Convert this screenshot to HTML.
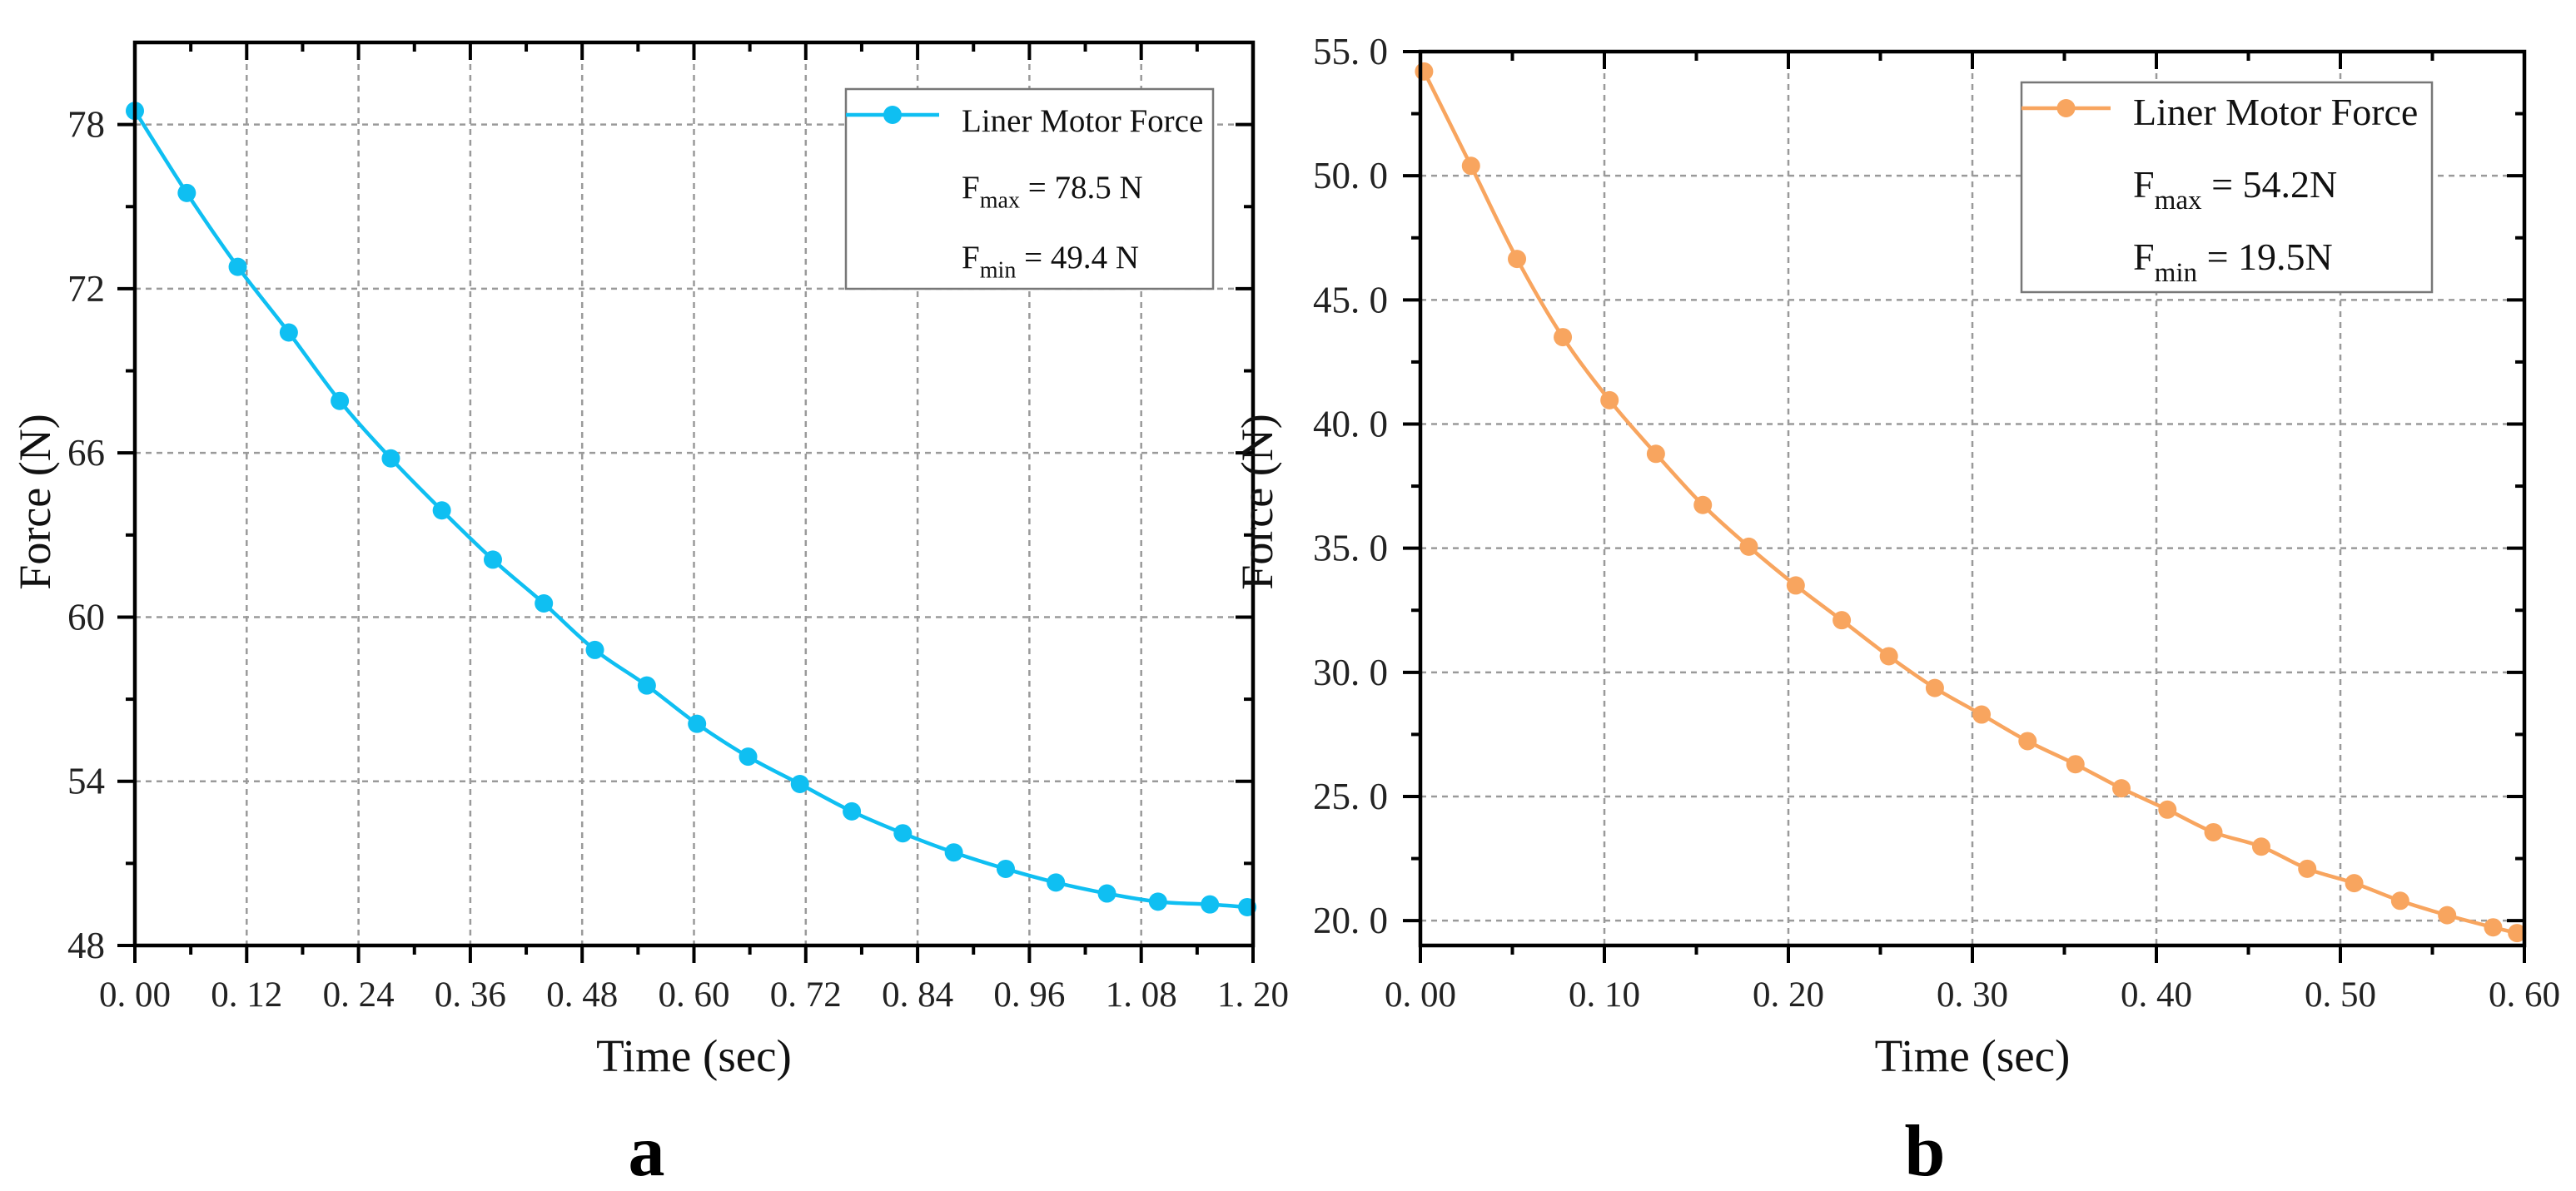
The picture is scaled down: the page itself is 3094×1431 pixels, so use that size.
<!DOCTYPE html>
<html><head><meta charset="utf-8"><style>
html,body{margin:0;padding:0;background:#fff;}
svg{display:block;font-family:"Liberation Serif",serif;}
</style></head><body>
<svg id="fig" width="3094" height="1431" viewBox="0 0 3094 1431" xmlns="http://www.w3.org/2000/svg"></svg>
<script>
const timesA=[0,0.0557,0.1104,0.1652,0.2199,0.2747,0.3294,0.3842,0.4389,0.4937,0.5494,0.6033,0.6581,0.7137,0.7694,0.8241,0.8789,0.9346,0.9884,1.0432,1.098,1.1537,1.1938];
const forceA=[78.5,75.5,72.8,70.4,67.9,65.8,63.9,62.1,60.5,58.8,57.5,56.1,54.9,53.9,52.9,52.1,51.4,50.8,50.3,49.9,49.6,49.5,49.4];
const xTicksA=[0,0.12,0.24,0.36,0.48,0.60,0.72,0.84,0.96,1.08,1.20];
const xTickLabelsA=["0. 00","0. 12","0. 24","0. 36","0. 48","0. 60","0. 72","0. 84","0. 96","1. 08","1. 20"];
const yTicksA=[48,54,60,66,72,78];
const yTickLabelsA=["48","54","60","66","72","78"];
const timesB=[0.002,0.0275,0.0525,0.0774,0.1028,0.128,0.1535,0.1785,0.204,0.229,0.2546,0.2796,0.305,0.330,0.356,0.381,0.406,0.431,0.457,0.482,0.5075,0.5325,0.558,0.583,0.596];
const forceB=[54.2,50.4,46.65,43.5,40.96,38.8,36.74,35.06,33.5,32.1,30.65,29.37,28.3,27.23,26.3,25.33,24.47,23.56,22.98,22.09,21.51,20.8,20.22,19.73,19.5];
const xTicksB=[0,0.1,0.2,0.3,0.4,0.5,0.6];
const xTickLabelsB=["0. 00","0. 10","0. 20","0. 30","0. 40","0. 50","0. 60"];
const yTicksB=[20,25,30,35,40,45,50,55];
const yTickLabelsB=["20. 0","25. 0","30. 0","35. 0","40. 0","45. 0","50. 0","55. 0"];

const NS="http://www.w3.org/2000/svg";
const svg=document.getElementById('fig');
function mk(tag,attrs,parent,text){const e=document.createElementNS(NS,tag);for(const k in attrs)e.setAttribute(k,attrs[k]);if(text!==undefined)e.textContent=text;(parent||svg).appendChild(e);return e;}

function chart(cfg){
  const g=mk('g',{});
  
  
  const L=cfg.L,R=cfg.R,T=cfg.T,B=cfg.B;
  const sx=v=>L+(v-cfg.x0)/(cfg.x1-cfg.x0)*(R-L);
  const sy=v=>B-(v-cfg.y0)/(cfg.y1-cfg.y0)*(B-T);
  const grid=mk('g',{stroke:'#9a9a9a','stroke-width':2.5,'stroke-dasharray':'7,6'},g);
  
  
  cfg.xt.forEach(v=>{if(v>cfg.x0&&v<cfg.x1)mk('line',{x1:sx(v),x2:sx(v),y1:T,y2:B},grid);});
  cfg.yt.forEach(v=>{if(v>cfg.y0&&v<cfg.y1)mk('line',{x1:L,x2:R,y1:sy(v),y2:sy(v)},grid);});
  const tk=mk('g',{stroke:'#000','stroke-width':4},g);
  
  
  for(let i=0;i<cfg.xt.length;i++){
    const v=cfg.xt[i],x=sx(v);
    mk('line',{x1:x,x2:x,y1:B,y2:B+21},tk);
    mk('line',{x1:x,x2:x,y1:T,y2:T+21},tk);
    if(i<cfg.xt.length-1){const m=sx((v+cfg.xt[i+1])/2);
      mk('line',{x1:m,x2:m,y1:B,y2:B+11},tk);mk('line',{x1:m,x2:m,y1:T,y2:T+11},tk);}
    const t=mk('text',{x:x,y:1209,'text-anchor':'middle','font-size':43,fill:'#222'},g,cfg.xl[i]);
    
    
  }
  for(let i=0;i<cfg.yt.length;i++){
    const v=cfg.yt[i],y=sy(v);
    mk('line',{x1:L-21,x2:L,y1:y,y2:y},tk);
    mk('line',{x1:R-21,x2:R,y1:y,y2:y},tk);
    const m=v+cfg.ym; if(m<cfg.y1){const ym=sy(m);
      mk('line',{x1:L-11,x2:L,y1:ym,y2:ym},tk);mk('line',{x1:R-11,x2:R,y1:ym,y2:ym},tk);}
    const t=mk('text',{x:cfg.ylx,y:y+15,'text-anchor':'end','font-size':45,fill:'#222'},g,cfg.yl[i]);
    
    
  }
  const pts=cfg.xs.map((v,i)=>[sx(v),sy(cfg.ys[i])]);
  let d='M'+pts[0][0]+','+pts[0][1];
  for(let i=0;i<pts.length-1;i++){
    const p0=pts[Math.max(0,i-1)],p1=pts[i],p2=pts[i+1],p3=pts[Math.min(pts.length-1,i+2)];
    const c1=[p1[0]+(p2[0]-p0[0])/6,p1[1]+(p2[1]-p0[1])/6],c2=[p2[0]-(p3[0]-p1[0])/6,p2[1]-(p3[1]-p1[1])/6];
    d+=' C'+c1+' '+c2+' '+p2;
  }
  const ln=mk('path',{d:d,fill:'none',stroke:cfg.color,'stroke-width':4.5},g);
  
  
  pts.forEach(p=>{const c=mk('circle',{cx:p[0],cy:p[1],r:11,fill:cfg.color},g);
    
    });
  const fr=mk('rect',{x:L,y:T,width:R-L,height:B-T,fill:'none',stroke:'#000','stroke-width':4.5},g);
  
  
  const yt=mk('text',{x:0,y:0,transform:'translate('+cfg.ytx+',603) rotate(-90)','text-anchor':'middle','font-size':54,fill:'#111'},g,'Force (N)');
  
  
  const xt=mk('text',{x:(L+R)/2,y:1287,'text-anchor':'middle','font-size':55,fill:'#111'},g,'Time (sec)');
  
  
  const pl=mk('text',{x:(L+R)/2-57,y:1412,'text-anchor':'middle','font-size':88,'font-weight':'bold',fill:'#000'},g,cfg.panel);
  
  
  const lg=mk('g',{},g);
  
  
  const Lg=cfg.lg;
  mk('rect',{x:Lg.x,y:Lg.y,width:Lg.w,height:Lg.h,fill:'#fff',stroke:'#777','stroke-width':2.5},lg);
  mk('line',{x1:Lg.x,x2:Lg.x+Lg.lw,y1:Lg.my,y2:Lg.my,stroke:cfg.color,'stroke-width':4.5},lg);
  mk('circle',{cx:Lg.x+Lg.lw/2,cy:Lg.my,r:11,fill:cfg.color},lg);
  const fs=Lg.fs;
  mk('text',{x:Lg.tx,y:Lg.b1,'font-size':fs,fill:'#111'},lg,'Liner Motor Force');
  const t2=mk('text',{x:Lg.tx,y:Lg.b2,'font-size':fs,fill:'#111'},lg);
  mk('tspan',{},t2,'F');mk('tspan',{dy:fs*0.3,'font-size':fs*0.72},t2,'max');mk('tspan',{dy:-fs*0.3},t2,cfg.fmax);
  const t3=mk('text',{x:Lg.tx,y:Lg.b3,'font-size':fs,fill:'#111'},lg);
  mk('tspan',{},t3,'F');mk('tspan',{dy:fs*0.3,'font-size':fs*0.72},t3,'min');mk('tspan',{dy:-fs*0.3},t3,cfg.fmin);
}
chart({name:'chart-a',panel:'a',L:162,R:1505,T:51,B:1136,x0:0,x1:1.2,y0:48,y1:81,
  xt:xTicksA,xl:xTickLabelsA,yt:yTicksA,yl:yTickLabelsA,ym:3,ylx:126,ytx:60,
  xs:timesA,ys:forceA,color:'#0fbff2',fmax:' = 78.5 N',fmin:' = 49.4 N',
  lg:{x:1016,y:107,w:441,h:240,lw:112,my:138,tx:1155,b1:158,b2:238,b3:322,fs:39}});
chart({name:'chart-b',panel:'b',L:1706,R:3032,T:62,B:1136,x0:0,x1:0.6,y0:19,y1:55,
  xt:xTicksB,xl:xTickLabelsB,yt:yTicksB,yl:yTickLabelsB,ym:2.5,ylx:1667,ytx:1528,
  xs:timesB,ys:forceB,color:'#f8a55f',fmax:' = 54.2N',fmin:' = 19.5N',
  lg:{x:2428,y:99,w:493,h:252,lw:107,my:130,tx:2562,b1:150,b2:237,b3:324,fs:46}});
</script>
</body></html>
